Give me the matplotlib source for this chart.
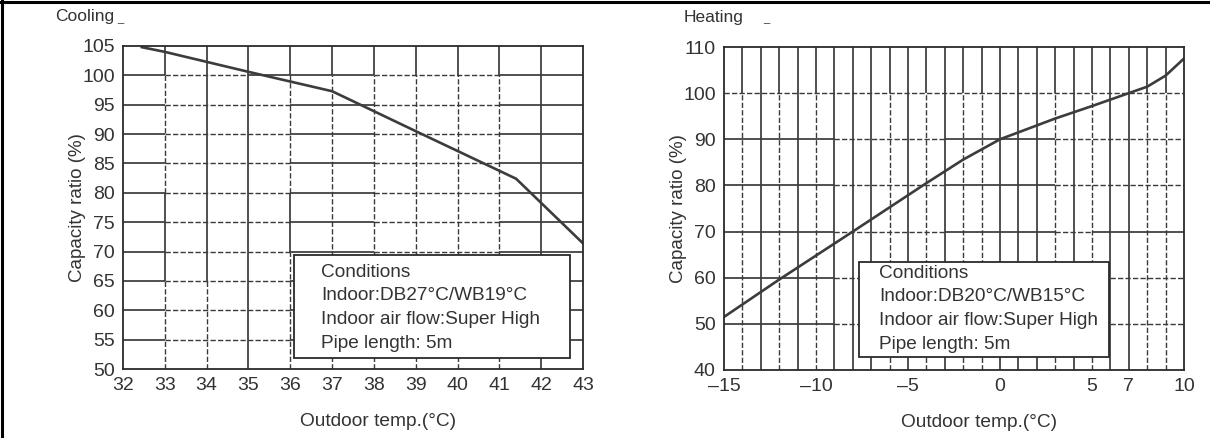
import matplotlib
matplotlib.use("Agg")
import matplotlib.pyplot as plt
from matplotlib.lines import Line2D
from matplotlib.patches import Rectangle

plt.rcParams['font.family'] = ['Liberation Sans', 'DejaVu Sans']

# capacity curves
cool_temp = [32.45, 33, 35, 37, 39, 41.4, 43]
cool_ratio = [104.8, 104.0, 100.6, 97.3, 90.5, 82.4, 71.4]

heat_temp = [-15, -12, -8, -4, -2, 0, 3, 5, 7, 8, 9, 10]
heat_ratio = [51.5, 59.6, 70.0, 80.5, 85.6, 90.0, 94.5, 97.2, 100.0, 101.4, 103.8, 107.5]

cool_xticks = list(range(32, 44))
cool_yticks = list(range(50, 106, 5))
heat_xticks = [-15, -10, -5, 0, 5, 7, 10]
heat_xlabels = ['\u201315', '\u201310', '\u20135', '0', '5', '7', '10']
heat_yticks = list(range(40, 111, 10))

cool_notes = ['Conditions', 'Indoor:DB27°C/WB19°C',
              'Indoor air flow:Super High', 'Pipe length: 5m']
heat_notes = ['Conditions', 'Indoor:DB20°C/WB15°C',
              'Indoor air flow:Super High', 'Pipe length: 5m']

GRID = '#3a3a3a'
TXT = '#333333'


def seg(ax, fixed, a, b, style, vertical):
    kw = dict(color=GRID, zorder=1, solid_capstyle='butt')
    if style == '-':
        kw.update(lw=1.25, ls='-')
    else:
        kw.update(lw=1.0, ls=(0, (3.8, 1.6)))
    if vertical:
        ax.plot([fixed, fixed], [a, b], **kw)
    else:
        ax.plot([a, b], [fixed, fixed], **kw)


def draw_lines(ax, spec, vertical):
    # spec: {position: [(start, end, style), ...]}
    for pos, parts in spec.items():
        for a, b, s in parts:
            seg(ax, pos, a, b, s, vertical)


# ---- grid layout, cooling ----
cool_v = {
    33: [(100, 105, '-'), (80, 100, '--'), (65, 80, '-'), (50, 65, '--')],
    34: [(65, 105, '-'), (50, 65, '--')],
    35: [(50, 105, '-')],
    36: [(100, 105, '-'), (80, 100, '--'), (70, 80, '-'), (50, 70, '--')],
    42: [(50, 105, '-')],
}
for t in range(37, 42):
    cool_v[t] = [(100, 105, '-'), (50, 100, '--')]

cool_h = {100: [(32, 33, '-'), (33, 35, '--'), (35, 38, '-'), (38, 41, '--'), (41, 43, '-')]}
for v in range(70, 100, 5):
    cool_h[v] = [(32, 33, '-'), (33, 36, '--'), (36, 38, '-'), (38, 41, '--'), (41, 43, '-')]
for v in (55, 60, 65):
    cool_h[v] = [(32, 33, '-'), (33, 36, '--'), (36, 43, '-')]

# ---- grid layout, heating ----
heat_solid = {-13, -11, -9, -8, -7, -5, -3, 0, 1, 2, 4, 6, 7}
heat_v = {}
for t in range(-14, 10):
    heat_v[t] = [(100, 110, '-'), (40, 100, '-' if t in heat_solid else '--')]

heat_h = {
    100: [(-15, 10, '--')],
    90: [(-15, -9, '-'), (-9, -3, '--'), (-3, 3, '-'), (3, 10, '--')],
    80: [(-15, -9, '-'), (-9, -3, '--'), (-3, 3, '-'), (3, 10, '--')],
    70: [(-15, -9, '-'), (-9, -3, '--'), (-3, 3, '-'), (3, 5, '--'), (5, 10, '-')],
    60: [(-15, -9, '-'), (-9, 6, '--'), (6, 10, '--')],
    50: [(-15, -9, '-'), (-9, 6, '--'), (6, 10, '--')],
}

fig = plt.figure(figsize=(12.1, 4.38), dpi=100)
ax1 = fig.add_axes([123 / 1210, 69 / 438, 460 / 1210, 323 / 438])
ax2 = fig.add_axes([724 / 1210, 68 / 438, 460 / 1210, 323 / 438])


def setup(ax, xlim, ylim, xticks, xlabels, yticks, title, title_x, notes, box,
          note_dx, note_top):
    ax.set_xlim(*xlim)
    ax.set_ylim(*ylim)
    ax.set_xticks(xticks)
    ax.set_xticklabels(xlabels)
    ax.set_yticks(yticks)
    ax.tick_params(length=0, labelsize=14, labelcolor=TXT, pad=6)
    for sp in ax.spines.values():
        sp.set_linewidth(1.3)
        sp.set_color('#2a2a2a')
        sp.set_zorder(5)
    ax.set_xlabel('Outdoor temp.(°C)', fontsize=13.8, color=TXT)
    ax.set_ylabel('Capacity ratio (%)', fontsize=13.5, color=TXT)
    ax.xaxis.set_label_coords(0.555, -0.137)
    ax.yaxis.set_label_coords(-0.08, 0.5)
    ax.text(title_x, 1.09, title, transform=ax.transAxes,
            fontsize=12.5, color=TXT, va='center', ha='left')
    x0, y0, x1, y1 = box
    ax.add_patch(Rectangle((x0, y0), x1 - x0, y1 - y0, transform=ax.transAxes,
                           facecolor='white', edgecolor='#2a2a2a', lw=1.3, zorder=3))
    for i, line in enumerate(notes):
        ax.text(x0 + note_dx, y1 - note_top - i * 0.0735, line,
                transform=ax.transAxes, fontsize=13.7, color=TXT,
                va='center', ha='left', zorder=4)


draw_lines(ax1, cool_v, True)
draw_lines(ax1, cool_h, False)
ax1.plot(cool_temp, cool_ratio, color='#3c3c3c', lw=1.9, zorder=4)
setup(ax1, (32, 43), (50, 105), cool_xticks, [str(t) for t in cool_xticks], cool_yticks,
      'Cooling', -0.148, cool_notes, (0.372, 0.034, 0.972, 0.353), 0.058, 0.053)

draw_lines(ax2, heat_v, True)
draw_lines(ax2, heat_h, False)
ax2.plot(heat_temp, heat_ratio, color='#3c3c3c', lw=1.9, zorder=4)
setup(ax2, (-15, 10), (40, 110), heat_xticks, heat_xlabels, heat_yticks,
      'Heating', -0.087, heat_notes, (0.293, 0.040, 0.837, 0.334), 0.045, 0.034)

# small marks after the titles
fig.text(117 / 1210, 1 - 19 / 438, '_', fontsize=8, color=TXT, va='center')
fig.text(763 / 1210, 1 - 19 / 438, '_', fontsize=8, color=TXT, va='center')

# page frame: top and left rules
fig.add_artist(Line2D([0, 1], [1 - 2 / 438, 1 - 2 / 438], transform=fig.transFigure,
                      color='black', lw=2.2))
fig.add_artist(Line2D([2 / 1210, 2 / 1210], [0, 1], transform=fig.transFigure,
                      color='black', lw=2.2))

fig.savefig('out.png', dpi=100)
